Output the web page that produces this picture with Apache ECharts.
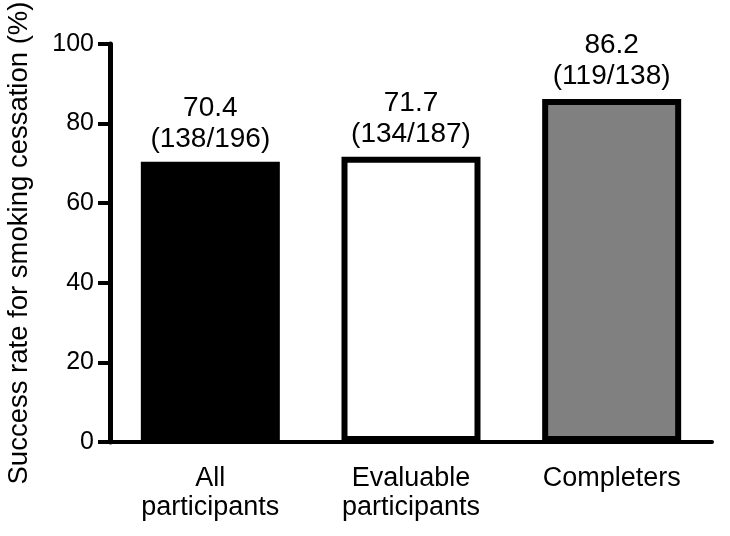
<!DOCTYPE html>
<html>
<head>
<meta charset="utf-8">
<script src="https://cdn.jsdelivr.net/npm/echarts@6/dist/echarts.min.js"></script>
<style>html,body{margin:0;padding:0;background:#fff;}#c{width:730px;height:536px;}</style>
</head>
<body>
<div id="c"></div>
<script>
var categories = ['All\nparticipants', 'Evaluable\nparticipants', 'Completers'];
var values = [70.4, 71.7, 86.2];
var fractions = ['138/196', '134/187', '119/138'];
var barColors = ['#000000', '#ffffff', '#808080'];
var yTicks = [0, 20, 40, 60, 80, 100];
var yTitle = 'Success rate for smoking cessation (%)';

var FONT = '"Liberation Sans", Arial, sans-serif';
var chart = echarts.init(document.getElementById('c'), null, {renderer: 'canvas'});
chart.setOption({
  animation: false,
  backgroundColor: '#ffffff',
  grid: {left: 110, right: 18, top: 44, bottom: 94, containLabel: false, outerBoundsMode: 'none'},
  xAxis: {
    type: 'category',
    data: categories,
    axisLine: {show: true, lineStyle: {color: '#000', width: 4}},
    axisTick: {show: false},
    axisLabel: {color: '#000', fontSize: 27, fontFamily: FONT, lineHeight: 29, margin: 22, interval: 0}
  },
  yAxis: {
    type: 'value',
    min: yTicks[0],
    max: yTicks[yTicks.length - 1],
    interval: 20,
    name: yTitle,
    nameLocation: 'middle',
    nameRotate: 90,
    nameGap: 77,
    nameTextStyle: {color: '#000', fontSize: 27.5, fontFamily: FONT},
    axisLine: {show: true, lineStyle: {color: '#000', width: 5}},
    axisTick: {show: true, length: 12, lineStyle: {color: '#000', width: 4}},
    axisLabel: {color: '#000', fontSize: 25, fontFamily: FONT, margin: 16},
    splitLine: {show: false}
  },
  series: [{
    type: 'bar',
    barWidth: 139,
    data: values.map(function (v, i) {
      return {value: v, itemStyle: {color: barColors[i], borderColor: '#000', borderWidth: 6}};
    }),
    label: {
      show: true,
      position: 'top',
      distance: 7,
      color: '#000',
      fontSize: 28,
      lineHeight: 31,
      fontFamily: FONT,
      formatter: function (p) { return values[p.dataIndex].toFixed(1) + '\n(' + fractions[p.dataIndex] + ')'; }
    }
  }]
});
</script>
</body>
</html>
